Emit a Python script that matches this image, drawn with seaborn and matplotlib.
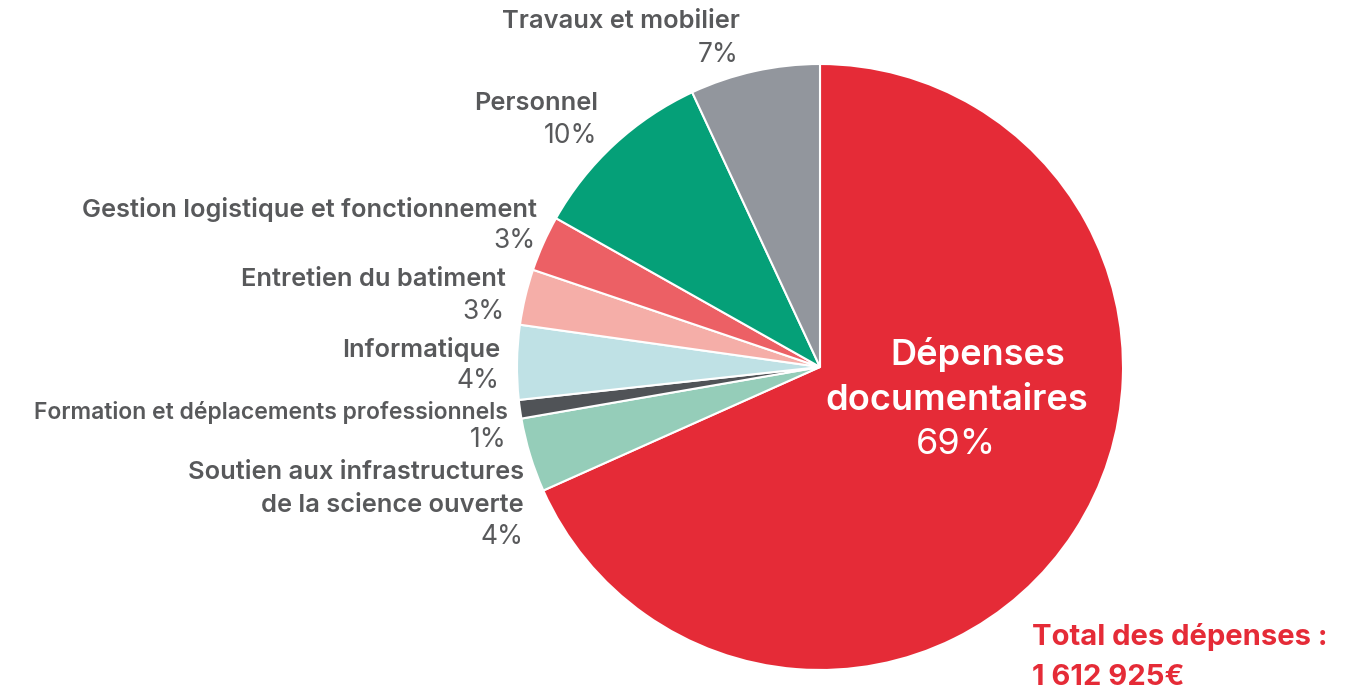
import matplotlib
matplotlib.use("Agg")
import matplotlib.pyplot as plt
import seaborn as sns

# Répartition des dépenses (part en %)
categories = [
    "Dépenses documentaires",
    "Soutien aux infrastructures\nde la science ouverte",
    "Formation et déplacements professionnels",
    "Informatique",
    "Entretien du batiment",
    "Gestion logistique et fonctionnement",
    "Personnel",
    "Travaux et mobilier",
]
values = [69, 4, 1, 4, 3, 3, 10, 7]
colors = ["#e52b37", "#95cdb9", "#505357", "#bfe1e5", "#f5aea8", "#ec6065", "#05a078", "#92969d"]
total_label = "Total des dépenses :\n1 612 925€"

sns.set_theme(style="white")
plt.rcParams["font.family"] = ["Inter", "DejaVu Sans"]

W, H = 1369, 688
fig = plt.figure(figsize=(W / 100, H / 100), dpi=100)
ax = fig.add_axes([0, 0, 1, 1])

ax.pie(values, colors=colors, startangle=90, counterclock=False,
       center=(820, H - 367), radius=303,
       wedgeprops=dict(edgecolor="white", linewidth=1.5))

# pie() resets the limits, so set the pixel frame afterwards
ax.set_xlim(0, W)
ax.set_ylim(0, H)
ax.set_aspect("equal")
ax.axis("off")

grey = "#58595b"

def txt(x, y, s, **kw):
    ax.text(x, H - y, s, va="center", **kw)

# label positions (pixels from top-left): name y, percent y, right edge
label_pos = {
    "Travaux et mobilier": (22, 55, 740),
    "Personnel": (104, 136, 598),
    "Gestion logistique et fonctionnement": (209, 241, 537),
    "Entretien du batiment": (280, 312, 506),
    "Informatique": (349, 381, 500),
    "Formation et déplacements professionnels": (412, 440, 508),
    "Soutien aux infrastructures\nde la science ouverte": (489, 537, 524),
}

for cat, val in zip(categories, values):
    if cat not in label_pos:
        continue
    ny, py, xr = label_pos[cat]
    fs = 16.5 if cat.startswith("Formation") else 18.3
    txt(xr, ny, cat, ha="right", fontsize=fs, fontweight="semibold", color=grey,
        linespacing=1.55)
    txt(xr - 1, py, f"{val}%", ha="right", fontsize=19, fontweight="normal", color=grey)

# main slice label
txt(978, 355, "Dépenses", ha="center", fontsize=26, fontweight="semibold", color="white")
txt(957, 400, "documentaires", ha="center", fontsize=26, fontweight="semibold", color="white")
txt(956, 445, f"{values[0]}%", ha="center", fontsize=26, fontweight="normal", color="white")

txt(1032, 657, total_label, ha="left", fontsize=21, fontweight="bold",
    color="#e52b37", linespacing=1.58)

fig.savefig("out.png", dpi=100)
